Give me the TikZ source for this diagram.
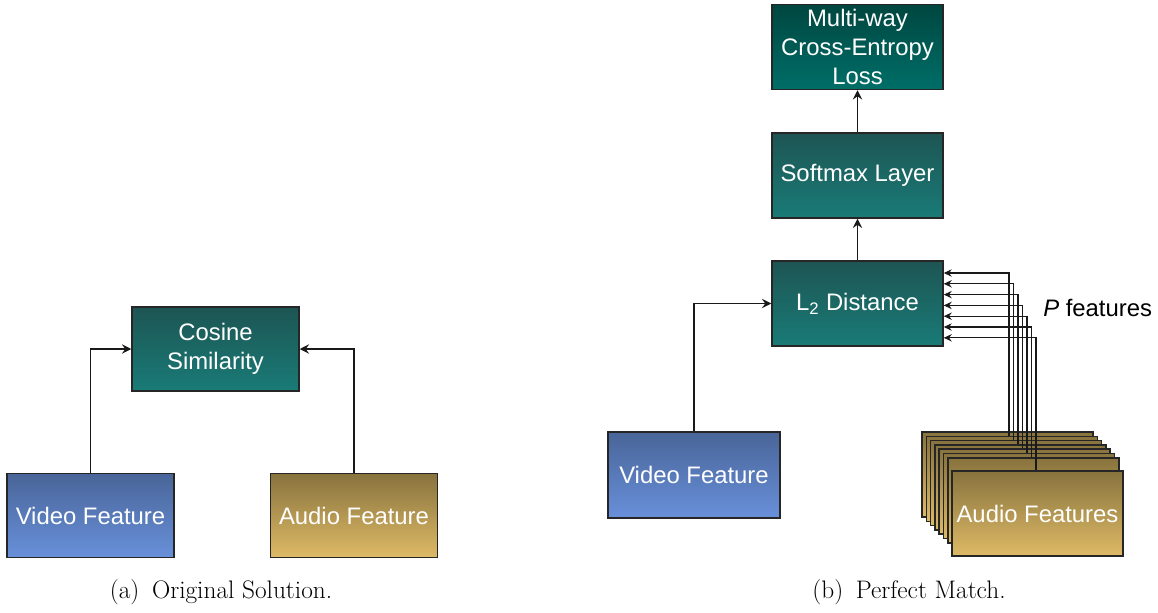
\documentclass[tikz,border=0pt]{standalone}
\usepackage{fontspec}
\newfontfamily\boxfont{Liberation Sans}
\usetikzlibrary{arrows.meta,calc}
\definecolor{tealtop}{RGB}{29,85,83}
\definecolor{tealbot}{RGB}{25,123,119}
\definecolor{losstop}{RGB}{0,70,64}
\definecolor{lossbot}{RGB}{0,110,104}
\definecolor{vidtop}{RGB}{73,101,152}
\definecolor{vidbot}{RGB}{104,144,218}
\definecolor{audtop}{RGB}{136,115,62}
\definecolor{audbot}{RGB}{222,186,102}
\begin{document}
\begin{tikzpicture}[x=0.75pt,y=-0.75pt,
  blk/.style={draw=black!85, line width=1.1pt, text=white, align=center, inner sep=1pt,
    font=\boxfont\fontsize{17.9}{21.5}\selectfont},
  sbox/.style={blk, minimum width=125.25pt, minimum height=63pt},
  rbox/.style={blk, minimum width=128.25pt, minimum height=63.75pt},
  tealbox/.style={top color=tealtop, bottom color=tealbot},
  lossbox/.style={top color=losstop, bottom color=lossbot},
  vidbox/.style={top color=vidtop, bottom color=vidbot},
  audbox/.style={top color=audtop, bottom color=audbot},
  arr/.style={draw=black!90, line width=1pt, -{Stealth[length=7pt,width=7pt,inset=2.5pt]}},
  farr/.style={draw=black!90, line width=0.9pt, -{Stealth[length=6pt,width=5.5pt,inset=2pt]}},
  captext/.style={font=\fontsize{19}{22}\selectfont}]
\useasboundingbox (0,0) rectangle (1158,612);

% (a) Original Solution
\node[sbox, tealbox] (cos) at (215.5,349) {Cosine\\Similarity};
\node[sbox, vidbox] (vidA) at (90.5,515.5) {Video Feature};
\node[sbox, audbox] (audA) at (354,515.5) {Audio Feature};
\draw[arr] (vidA.north) |- (cos.west);
\draw[arr] (audA.north) |- (cos.east);
\node[captext] (capA) at (221,592) {(a)\enspace Original Solution.};

% (b) Perfect Match
\node[rbox, lossbox] (loss) at (857.5,47) {Multi-way\\Cross-Entropy\\Loss};
\node[rbox, tealbox] (soft) at (857.5,175.5) {Softmax Layer};
\node[rbox, tealbox] (l2) at (857.5,303.5) {L\textsubscript{2} Distance};
\node[blk, vidbox, minimum width=129pt, minimum height=64.5pt] (vidB) at (694,475) {Video Feature};
\draw[arr] (soft.north) -- (loss.south);
\draw[arr] (l2.north) -- (soft.south);
\draw[arr] (vidB.north) |- (l2.west);

\foreach \k in {0,...,6} {
  \node[rbox, audbox] (af\k) at ({1007.5+4.3*\k},{474.5+4.3*\k}) {};
}
\node[rbox, audbox] (af7) at (1037.5,513.5) {Audio Features};

\foreach \i in {0,...,6} {
  \pgfmathtruncatemacro\k{\i+1}
  \coordinate (t\i) at ({1009+4.5*\i},{273+10.8*\i});
  \draw[farr] (af\k.north -| t\i) -- (t\i) -- (l2.east |- t\i);
}
\node[font=\boxfont\fontsize{17.9}{21.5}\selectfont, anchor=west, inner sep=0pt] (pf) at (1043,308) {\textit{P} features};
\node[captext] (capB) at (909,592) {(b)\enspace Perfect Match.};
\end{tikzpicture}
\end{document}
